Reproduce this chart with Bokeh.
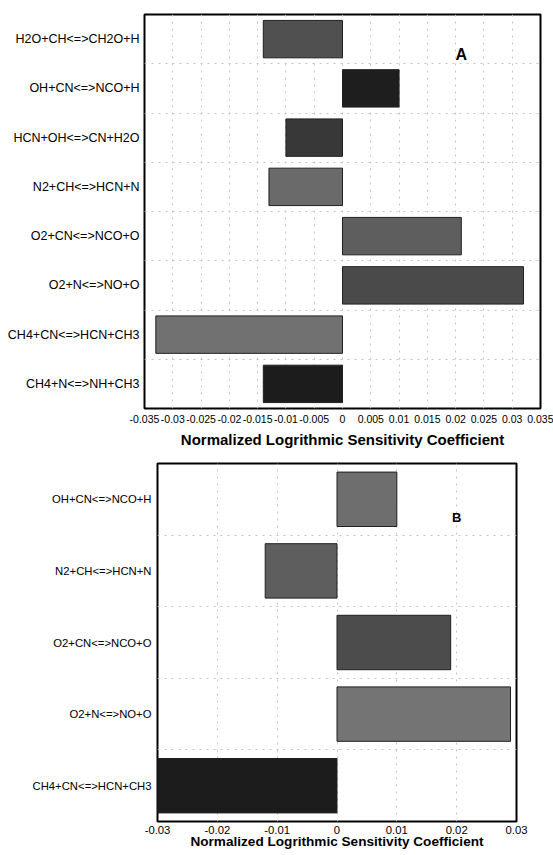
from bokeh.plotting import figure
from bokeh.models import Range1d, FixedTicker, Label
from bokeh.embed import file_html
from bokeh.resources import INLINE

# ---- Panel A data (listed top to bottom) ----
reactions_a = ["H2O+CH<=>CH2O+H", "OH+CN<=>NCO+H", "HCN+OH<=>CN+H2O", "N2+CH<=>HCN+N",
               "O2+CN<=>NCO+O", "O2+N<=>NO+O", "CH4+CN<=>HCN+CH3", "CH4+N<=>NH+CH3"]
values_a = [-0.014, 0.010, -0.010, -0.013, 0.021, 0.032, -0.033, -0.014]
colors_a = ["#505050", "#1e1e1e", "#383838", "#6a6a6a", "#5e5e5e", "#4a4a4a", "#717171", "#1c1c1c"]
xticks_a = [-0.035, -0.03, -0.025, -0.02, -0.015, -0.01, -0.005, 0, 0.005, 0.01, 0.015, 0.02, 0.025, 0.03, 0.035]

# ---- Panel B data (listed top to bottom) ----
reactions_b = ["OH+CN<=>NCO+H", "N2+CH<=>HCN+N", "O2+CN<=>NCO+O", "O2+N<=>NO+O", "CH4+CN<=>HCN+CH3"]
values_b = [0.010, -0.012, 0.019, 0.029, -0.030]
colors_b = ["#6e6e6e", "#5e5e5e", "#4c4c4c", "#747474", "#1c1c1c"]
xticks_b = [-0.03, -0.02, -0.01, 0, 0.01, 0.02, 0.03]

XLABEL = "Normalized Logrithmic Sensitivity Coefficient"
FONT = "Liberation Sans"


def make_panel(reactions, values, colors, xticks, xr, width, height, borders,
               ylab_size, xtick_size, xlabel_size, tick_standoff, label_standoff,
               ylab_standoff, letter, letter_pos, letter_size):
    n = len(reactions)
    ys = [n - 1 - i for i in range(n)]
    p = figure(width=width, height=height, output_backend="svg", toolbar_location=None,
               x_range=Range1d(*xr), y_range=Range1d(-0.5, n - 0.5))
    p.min_border_left, p.min_border_right, p.min_border_top, p.min_border_bottom = borders
    p.hbar(y=ys, left=0, right=values, height=0.76, fill_color=colors,
           line_color="#202020", line_width=1)
    p.outline_line_color = "black"
    p.outline_line_width = 2
    p.outline_line_alpha = 1

    # x axis
    p.xaxis.ticker = FixedTicker(ticks=xticks)
    p.xaxis.major_label_overrides = {v: f"{v:g}" for v in xticks}
    p.xaxis.axis_label = XLABEL
    p.xaxis.axis_label_text_font = FONT
    p.xaxis.axis_label_text_font_style = "bold"
    p.xaxis.axis_label_text_font_size = xlabel_size
    p.xaxis.axis_label_text_color = "black"
    p.xaxis.axis_label_standoff = label_standoff
    p.xaxis.major_label_text_font = FONT
    p.xaxis.major_label_text_font_size = xtick_size
    p.xaxis.major_label_text_color = "black"
    p.xaxis.major_label_standoff = tick_standoff

    # y axis
    p.yaxis.ticker = FixedTicker(ticks=ys)
    p.yaxis.major_label_overrides = {y: r for y, r in zip(ys, reactions)}
    p.yaxis.major_label_text_font = FONT
    p.yaxis.major_label_text_font_size = ylab_size
    p.yaxis.major_label_text_color = "black"
    p.yaxis.major_label_standoff = ylab_standoff

    for ax in (p.xaxis, p.yaxis):
        ax.axis_line_color = None
        ax.major_tick_line_color = None
        ax.minor_tick_line_color = None
        ax.major_tick_out = 0
        ax.major_tick_in = 0

    p.xgrid.ticker = FixedTicker(ticks=xticks)
    p.ygrid.ticker = FixedTicker(ticks=[k + 0.5 for k in range(n - 1)])
    for g in (p.xgrid, p.ygrid):
        g.grid_line_color = "#c4c4c4"
        g.grid_line_dash = "2 5"
        g.grid_line_width = 1

    p.add_layout(Label(x=letter_pos[0], y=letter_pos[1], text=letter,
                       text_font=FONT, text_font_style="bold", text_font_size=letter_size,
                       text_align="center", text_baseline="middle", text_color="black"))
    return p


pA = make_panel(reactions_a, values_a, colors_a, xticks_a, (-0.035, 0.035),
                width=553, height=450, borders=(144, 13, 14, 42),
                ylab_size="12.5px", xtick_size="10.5px", xlabel_size="15px",
                tick_standoff=6, label_standoff=5, ylab_standoff=5,
                letter="A", letter_pos=(0.021, 6.68), letter_size="16px")

pB = make_panel(reactions_b, values_b, colors_b, xticks_b, (-0.03, 0.03),
                width=553, height=405, borders=(157, 37, 13, 34),
                ylab_size="11.3px", xtick_size="11.3px", xlabel_size="13.6px",
                tick_standoff=4, label_standoff=-3, ylab_standoff=6,
                letter="B", letter_pos=(0.020, 3.745), letter_size="13px")

open("out.html", "w").write(file_html([pA, pB], INLINE))
